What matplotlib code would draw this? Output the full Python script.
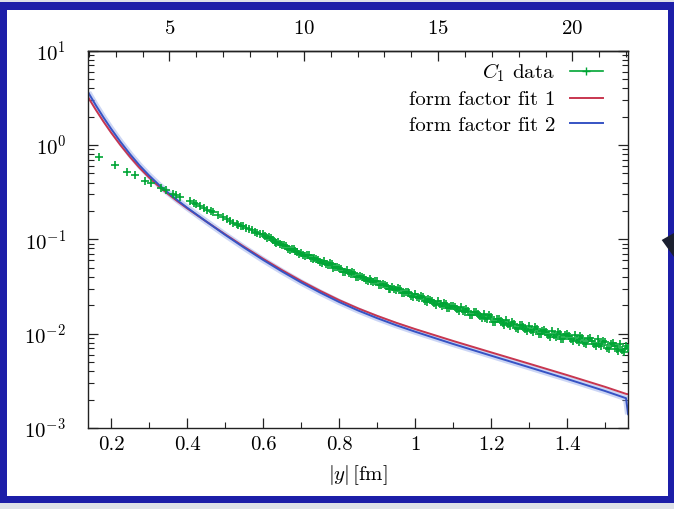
import matplotlib
matplotlib.use("Agg")
import matplotlib.pyplot as plt
from matplotlib.lines import Line2D
from matplotlib.patches import Rectangle, Polygon
from matplotlib.ticker import MultipleLocator, LogLocator, NullFormatter

# lattice spacing used for the top axis (fm)
a_fm = 0.0707

# C1 data (|y| in fm, value): sparse points, then the dense band, then in-between points
c1_x = [0.1687, 0.2108, 0.2431, 0.2633, 0.2896, 0.3054, 0.3316, 0.3448, 0.3640, 0.3720,
        0.3800, 0.4078, 0.4170, 0.4236, 0.4341, 0.4450, 0.4517, 0.4620, 0.4690, 0.4800,
        0.4953, 0.5050, 0.5120, 0.5216, 0.5300, 0.5347, 0.5420, 0.5479, 0.5560, 0.5640,
        0.5699, 0.5780, 0.5850, 0.5918,
        0.60, 0.61, 0.62, 0.63, 0.64, 0.65, 0.66, 0.67, 0.68, 0.69,
        0.70, 0.71, 0.72, 0.73, 0.74, 0.75, 0.76, 0.77, 0.78, 0.79,
        0.80, 0.81, 0.82, 0.83, 0.84, 0.85, 0.86, 0.87, 0.88, 0.89,
        0.90, 0.91, 0.92, 0.93, 0.94, 0.95, 0.96, 0.97, 0.98, 0.99,
        1.00, 1.01, 1.02, 1.03, 1.04, 1.05, 1.06, 1.07, 1.08, 1.09,
        1.10, 1.11, 1.12, 1.13, 1.14, 1.15, 1.16, 1.17, 1.18, 1.19,
        1.20, 1.21, 1.22, 1.23, 1.24, 1.25, 1.26, 1.27, 1.28, 1.29,
        1.30, 1.31, 1.32, 1.33, 1.34, 1.35, 1.36, 1.37, 1.38, 1.39,
        1.40, 1.41, 1.42, 1.43, 1.44, 1.45, 1.46, 1.47, 1.48, 1.49,
        1.50, 1.51, 1.52, 1.53, 1.54, 1.55, 1.56,
        0.605, 0.615, 0.625, 0.635, 0.645, 0.655, 0.665, 0.675, 0.685, 0.695,
        0.705, 0.715, 0.725, 0.735, 0.745, 0.755, 0.765, 0.775, 0.785, 0.795,
        0.805, 0.815, 0.825, 0.835, 0.845, 0.855, 0.865, 0.875, 0.885, 0.895,
        0.905, 0.915, 0.925, 0.935, 0.945, 0.955, 0.965, 0.975, 0.985, 0.995,
        1.005, 1.015, 1.025, 1.035, 1.045, 1.055, 1.065, 1.075, 1.085, 1.095,
        1.105, 1.115, 1.125, 1.135, 1.145, 1.155, 1.165, 1.175, 1.185, 1.195,
        1.205, 1.215, 1.225, 1.235, 1.245, 1.255, 1.265, 1.275, 1.285, 1.295,
        1.305, 1.315, 1.325, 1.335, 1.345, 1.355, 1.365, 1.375, 1.385, 1.395,
        1.405, 1.415, 1.425, 1.435, 1.445, 1.455, 1.465, 1.475, 1.485, 1.495,
        1.505, 1.515, 1.525, 1.535, 1.545, 1.555]
c1_y = [0.753, 0.616, 0.520, 0.480, 0.418, 0.391, 0.350, 0.334, 0.303, 0.296,
        0.282, 0.252, 0.244, 0.238, 0.228, 0.214, 0.204, 0.198, 0.193, 0.183,
        0.172, 0.164, 0.158, 0.150, 0.146, 0.143, 0.139, 0.137, 0.132, 0.128,
        0.126, 0.121, 0.118, 0.115,
        0.1127, 0.1030, 0.1021, 0.0944, 0.0944, 0.0865, 0.0845, 0.0778, 0.0783, 0.0729,
        0.0721, 0.0664, 0.0679, 0.0625, 0.0618, 0.0571, 0.0585, 0.0538, 0.0548, 0.0505,
        0.0498, 0.0456, 0.0469, 0.0430, 0.0440, 0.0403, 0.0403, 0.0367, 0.0381, 0.0351,
        0.0361, 0.0326, 0.0330, 0.0301, 0.0315, 0.0291, 0.0298, 0.0267, 0.0274, 0.0252,
        0.0263, 0.0238, 0.0244, 0.0218, 0.0228, 0.0212, 0.0221, 0.0197, 0.0206, 0.0185,
        0.0198, 0.0181, 0.0191, 0.0169, 0.0176, 0.0157, 0.0169, 0.0154, 0.0163, 0.0142,
        0.0150, 0.0133, 0.0144, 0.0130, 0.0138, 0.0120, 0.0128, 0.0113, 0.0124, 0.0111,
        0.0120, 0.0104, 0.0112, 0.00982, 0.0109, 0.00975, 0.0107, 0.00918, 0.0100, 0.00875,
        0.00989, 0.00873, 0.00966, 0.00822, 0.00906, 0.00782, 0.00889, 0.00778, 0.00869, 0.00733,
        0.00813, 0.00693, 0.00794, 0.00685, 0.00769, 0.00640, 0.00713,
        0.1073, 0.1050, 0.0995, 0.0920, 0.0893, 0.0875, 0.0798, 0.0793, 0.0757, 0.0705,
        0.0690, 0.0687, 0.0628, 0.0633, 0.0605, 0.0564, 0.0553, 0.0555, 0.0502, 0.0508,
        0.0486, 0.0450, 0.0444, 0.0447, 0.0402, 0.0408, 0.0391, 0.0361, 0.0359, 0.0366,
        0.0327, 0.0337, 0.0323, 0.0297, 0.0296, 0.0303, 0.0269, 0.0279, 0.0267, 0.0244,
        0.0244, 0.0251, 0.0221, 0.0231, 0.0222, 0.0203, 0.0205, 0.0213, 0.0187, 0.0197,
        0.0190, 0.0173, 0.0175, 0.0184, 0.0159, 0.0169, 0.0162, 0.0146, 0.0148, 0.0156,
        0.0134, 0.0144, 0.0137, 0.0123, 0.0126, 0.0134, 0.0114, 0.0123, 0.0119, 0.0106,
        0.0109, 0.0117, 0.00990, 0.0108, 0.0104, 0.00931, 0.00964, 0.0104, 0.00881, 0.00972,
        0.00938, 0.00834, 0.00865, 0.00942, 0.00787, 0.00873, 0.00839, 0.00743, 0.00774, 0.00846,
        0.00699, 0.00779, 0.00746, 0.00653, 0.00679, 0.00742]

# form factor fits
fit_x = [0.140, 0.160, 0.180, 0.200, 0.225, 0.250, 0.275, 0.300, 0.325, 0.350,
         0.375, 0.400, 0.450, 0.500, 0.550, 0.600, 0.650, 0.700, 0.750, 0.800,
         0.850, 0.900, 0.950, 1.000, 1.100, 1.200, 1.300, 1.400, 1.500, 1.555,
         1.5605]
fit1_y = [3.184, 2.355, 1.770, 1.355, 0.9931, 0.7447, 0.5715, 0.4519, 0.3656, 0.3020,
          0.2529, 0.2133, 0.1549, 0.1132, 0.08337, 0.06223, 0.04710, 0.03622, 0.02844, 0.02270,
          0.01854, 0.01545, 0.01306, 0.01119, 0.008375, 0.006339, 0.004808, 0.003639, 0.002729, 0.002301,
          0.002280]
fit2_y = [3.597, 2.630, 1.959, 1.486, 1.076, 0.7980, 0.6067, 0.4753, 0.3811, 0.3119,
          0.2588, 0.2168, 0.1549, 0.1117, 0.08166, 0.06053, 0.04560, 0.03491, 0.02729, 0.02168,
          0.01762, 0.01462, 0.01230, 0.01050, 0.007780, 0.005848, 0.004406, 0.003311, 0.002466, 0.002070,
          0.00140]

bottom_ticks = [0.2, 0.4, 0.6, 0.8, 1.0, 1.2, 1.4]
bottom_labels = ["0.2", "0.4", "0.6", "0.8", "1", "1.2", "1.4"]
top_ticks = [5, 10, 15, 20]

green = "#00a535"
red = "#c8364f"
blue = "#3653c4"

plt.rcParams["font.family"] = "serif"
plt.rcParams["font.serif"] = ["cmr10"]
plt.rcParams["mathtext.fontset"] = "cm"
plt.rcParams["axes.formatter.use_mathtext"] = True
plt.rcParams["font.size"] = 15

W, H = 674, 509
fig = plt.figure(figsize=(W / 100, H / 100), dpi=100)
fig.patch.set_facecolor("#dde1e8")


def px_rect(x0, y0, x1, y1, **kw):
    # rectangle in pixel coords, y measured from the top
    return Rectangle((x0 / W, 1 - y1 / H), (x1 - x0) / W, (y1 - y0) / H,
                     transform=fig.transFigure, **kw)


fig.add_artist(px_rect(0, 2, 674, 503, facecolor="#1c1ea8", edgecolor="none", zorder=-10))
fig.add_artist(px_rect(7, 10, 668, 496, facecolor="white", edgecolor="none", zorder=-9))
tri = [(661.7, 240), (674, 233), (674, 257)]
fig.add_artist(Polygon([(x / W, 1 - y / H) for x, y in tri], closed=True,
                       transform=fig.transFigure, facecolor="#1b2030", edgecolor="none", zorder=5))

ax = fig.add_axes([88.3 / W, 1 - 428 / H, (628.3 - 88.3) / W, (428 - 50.7) / H])
ax.set_facecolor("none")

ax.plot(c1_x, c1_y, "+", color=green, ms=5.5, mew=1.2, zorder=3)
ax.plot(fit_x, fit2_y, "-", color="#8fa4ea", lw=4.5, alpha=0.45, solid_capstyle="butt", zorder=2)
ax.plot(fit_x, fit1_y, "-", color=red, lw=1.4, zorder=2)
ax.plot(fit_x, fit2_y, "-", color=blue, lw=1.4, zorder=2)

ax.set_yscale("log")
ax.set_xlim(0.14, 1.561)
ax.set_ylim(1e-3, 1e1)

ax.set_xticks(bottom_ticks)
ax.set_xticklabels(bottom_labels)
ax.xaxis.set_minor_locator(MultipleLocator(0.1))
ax.yaxis.set_major_locator(LogLocator(base=10, numticks=10))
ax.yaxis.set_minor_locator(LogLocator(base=10, subs=range(2, 10), numticks=10))
ax.yaxis.set_minor_formatter(NullFormatter())

ax.tick_params(axis="x", which="both", direction="in", top=False, bottom=True, pad=6)
ax.tick_params(axis="y", which="both", direction="in", left=True, right=True, pad=16)
ax.tick_params(which="major", length=7, width=0.9, color="#222222")
ax.tick_params(which="minor", length=4, width=0.8, color="#222222")
for sp in ax.spines.values():
    sp.set_linewidth(1.0)
    sp.set_color("#222222")

secax = ax.secondary_xaxis("top", functions=(lambda x: x / a_fm, lambda n: n * a_fm))
secax.set_xticks(top_ticks)
secax.xaxis.set_minor_locator(MultipleLocator(1))
secax.tick_params(which="both", direction="in", pad=9)
secax.tick_params(which="major", length=7, width=0.9, color="#222222")
secax.tick_params(which="minor", length=4, width=0.8, color="#222222")
secax.spines["top"].set_linewidth(1.0)

ax.set_xlabel(r"$|y|\,[\mathrm{fm}]$", labelpad=6)

handles = [Line2D([], [], color=green, marker="+", ms=6, mew=1.0, lw=1.2),
           Line2D([], [], color=red, lw=1.4),
           Line2D([], [], color=blue, lw=1.4)]
labels = [r"$C_1$ data", "form factor fit 1", "form factor fit 2"]
ax.legend(handles, labels, loc="upper right", bbox_to_anchor=(0.9685, 0.994),
          frameon=False, markerfirst=False, handlelength=1.6, handletextpad=0.7,
          labelspacing=0.33, borderaxespad=0.0, numpoints=1)

fig.savefig("out.png", dpi=100, facecolor=fig.get_facecolor())
